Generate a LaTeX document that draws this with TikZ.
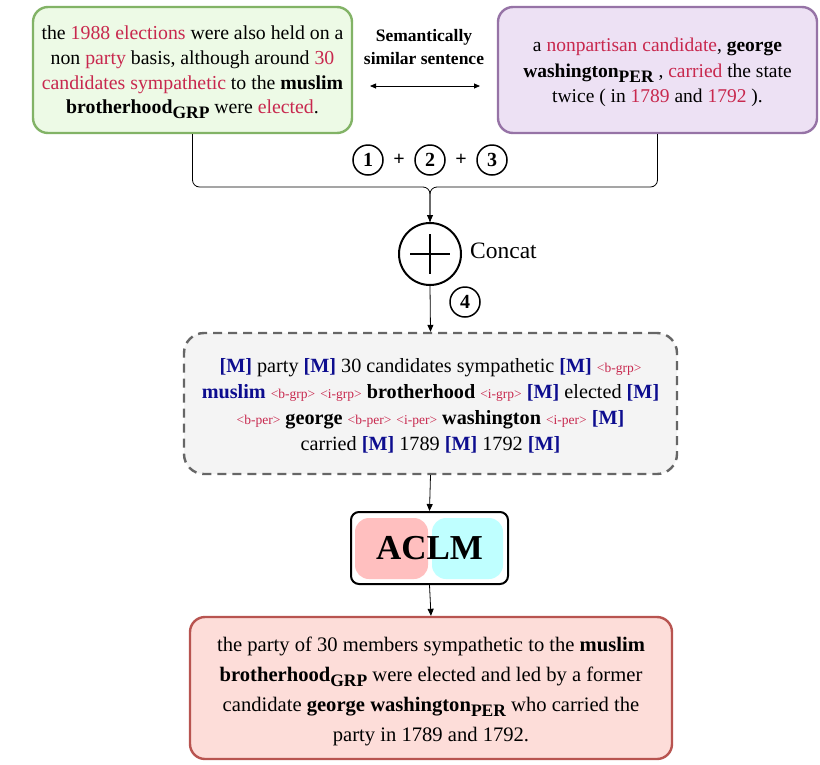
\documentclass[tikz,border=0pt]{standalone}
\usepackage{fontspec}
\setmainfont{Liberation Serif}
\usetikzlibrary{arrows.meta,calc}
\definecolor{redtxt}{HTML}{C8284E}
\definecolor{mblue}{HTML}{0D0D8F}
\definecolor{gfill}{HTML}{EDFAE6}
\definecolor{gline}{HTML}{82B366}
\definecolor{pfill}{HTML}{EDE1F4}
\definecolor{pline}{HTML}{9673A6}
\definecolor{dfill}{HTML}{F4F4F4}
\definecolor{dline}{HTML}{666666}
\definecolor{rfill}{HTML}{FDDDD9}
\definecolor{rline}{HTML}{B85450}
\definecolor{pinkc}{HTML}{FFBFBF}
\definecolor{cyanc}{HTML}{BFFFFF}
\newcommand{\rt}[1]{\textcolor{redtxt}{#1}}
\newcommand{\mk}{\textcolor{mblue}{\textbf{[M]}}}
\newcommand{\tg}[1]{{\fontsize{13.5}{13.5}\selectfont\textcolor{redtxt}{<#1>}}}
\newcommand{\sbs}[1]{\raisebox{-0.25em}{\fontsize{17.5}{17.5}\selectfont\bfseries #1}}
\begin{document}
\begin{tikzpicture}[x=1pt,y=-1pt,
  sbox/.style={rounded corners=15pt, line width=2.4pt, inner sep=0pt},
  txt/.style={align=center, inner sep=0pt},
  numc/.style={circle, draw, line width=1.5pt, minimum size=30pt, inner sep=0pt, font=\fontsize{20}{20}\selectfont\bfseries},
  conn/.style={line width=0.8pt},
  arr/.style={conn, -{Triangle[length=7pt,width=6pt]}}]
\useasboundingbox (0,0) rectangle (820,764);
% top boxes
\node[sbox, draw=gline, fill=gfill, minimum width=319pt, minimum height=126pt] (green) at (192.5,70) {};
\node[txt, font=\fontsize{19.8}{24.6}\selectfont] (greentxt) at (192.5,72.5)
 {the \rt{1988 elections} were also held on a\\ non \rt{party} basis, although around \rt{30}\\ \rt{candidates sympathetic} to the \textbf{muslim}\\ \textbf{brotherhood}\sbs{GRP} were \rt{elected}.};
\node[sbox, draw=pline, fill=pfill, minimum width=319pt, minimum height=126pt] (purple) at (657.5,70) {};
\node[txt, font=\fontsize{19.5}{25.5}\selectfont] (purpletxt) at (657.5,72.5)
 {a \rt{nonpartisan candidate}, \textbf{george}\\ \textbf{washington}\sbs{PER} , \rt{carried} the state\\ twice ( in \rt{1789} and \rt{1792} ).};
\node[align=center, font=\fontsize{17.5}{23}\selectfont\bfseries] (sem) at (424,47) {Semantically\\similar sentence};
\coordinate (dl) at (370,86);
\coordinate (dr) at (480,86);
\draw[conn, {Triangle[length=6pt,width=5pt]}-{Triangle[length=6pt,width=5pt]}] (dl) -- (dr);
% numbers
\node[numc] (n1) at (368,160) {1};
\node[numc] (n2) at (430,160) {2};
\node[numc] (n3) at (492,160) {3};
\node[font=\fontsize{20}{20}\selectfont\bfseries] (p1) at (399,160) {+};
\node[font=\fontsize{20}{20}\selectfont\bfseries] (p2) at (461,160) {+};
% concat
\node[circle, draw, line width=2pt, minimum size=62pt, inner sep=0pt] (cat) at (430,254) {};
\draw[line width=2pt] ($(cat.center)+(-20,0)$) -- ($(cat.center)+(20,0)$);
\draw[line width=2pt] ($(cat.center)+(0,-20)$) -- ($(cat.center)+(0,20)$);
\node[anchor=west, font=\fontsize{23.5}{23.5}\selectfont, inner sep=0pt] (cattxt) at (470,251) {Concat};
\coordinate (join) at (430,187);
\draw[conn, rounded corners=7pt] (green.south) |- (join) -- (cat.north);
\draw[arr, rounded corners=7pt] (purple.south) |- (join) -- (cat.north);
\node[numc] (n4) at (465,302) {4};
% dashed box
\node[rounded corners=20pt, line width=2.4pt, draw=dline, fill=dfill, dash pattern=on 9pt off 6pt, minimum width=493pt, minimum height=141pt, inner sep=0pt] (mask) at (430.5,403.5) {};
\node[txt, font=\fontsize{20.2}{26}\selectfont] (masktxt) at (430.5,405.5)
 {\mk{} party \mk{} 30 candidates sympathetic \mk{} \tg{b-grp}\\
 \textcolor{mblue}{\textbf{muslim}} \tg{b-grp} \tg{i-grp} \textbf{brotherhood} \tg{i-grp} \mk{} elected \mk{}\\
 \tg{b-per} \textbf{george} \tg{b-per} \tg{i-per} \textbf{washington} \tg{i-per} \mk{}\\
 carried \mk{} 1789 \mk{} 1792 \mk{}};
\draw[arr] (cat.south) -- (mask.north);
% ACLM
\node[rounded corners=8pt, draw, line width=2pt, fill=white, minimum width=157pt, minimum height=72pt, inner sep=0pt] (aclm) at (429.5,548) {};
\fill[pinkc, rounded corners=14pt] (355,518) rectangle (428,579);
\fill[cyanc, rounded corners=14pt] (432,518) rectangle (503,579);
\node[font=\fontsize{35}{35}\selectfont\bfseries] (aclmtxt) at (aclm.center) {ACLM};
\draw[arr] (mask.south) -- (aclm.north);
% result
\node[rounded corners=15pt, line width=2.4pt, draw=rline, fill=rfill, minimum width=482pt, minimum height=142pt, inner sep=0pt] (res) at (431,688) {};
\node[txt, font=\fontsize{20.6}{30}\selectfont] (restxt) at (431,691.5)
 {the party of 30 members sympathetic to the \textbf{muslim}\\
 \textbf{brotherhood}\sbs{GRP} were elected and led by a former\\
 candidate \textbf{george washington}\sbs{PER} who carried the\\
 party in 1789 and 1792.};
\draw[arr] (aclm.south) -- (res.north);
\end{tikzpicture}
\end{document}
